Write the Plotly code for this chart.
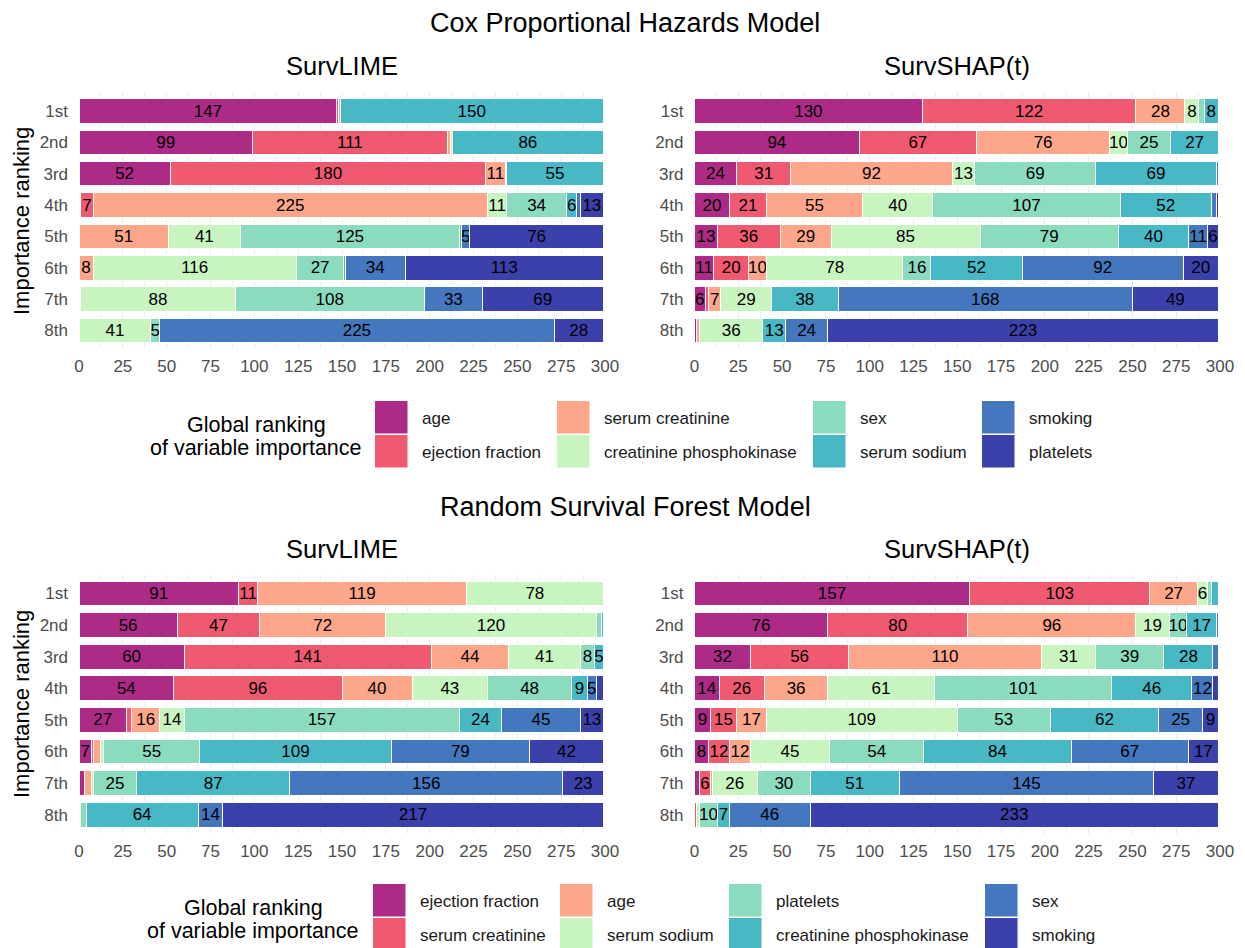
import plotly.graph_objects as go

# ---------------- data ----------------
ranks = ["1st", "2nd", "3rd", "4th", "5th", "6th", "7th", "8th"]
x_ticks = [0, 25, 50, 75, 100, 125, 150, 175, 200, 225, 250, 275, 300]

cox_vars = ["age", "ejection fraction", "serum creatinine", "creatinine phosphokinase",
            "sex", "serum sodium", "smoking", "platelets"]
rsf_vars = ["ejection fraction", "serum creatinine", "age", "serum sodium",
            "platelets", "creatinine phosphokinase", "sex", "smoking"]

# rows = importance rank (1st..8th), columns = variables in the order above
cox_survlime = [
    [147, 1, 1, 0, 0, 150, 0, 0],
    [99, 111, 2, 1, 0, 86, 0, 0],
    [52, 180, 11, 1, 0, 55, 0, 0],
    [1, 7, 225, 11, 34, 6, 2, 13],
    [0, 0, 51, 41, 125, 1, 5, 76],
    [0, 0, 8, 116, 27, 1, 34, 113],
    [0, 0, 1, 88, 108, 0, 33, 69],
    [0, 0, 0, 41, 5, 0, 225, 28],
]
cox_survshap = [
    [130, 122, 28, 8, 3, 8, 0, 0],
    [94, 67, 76, 10, 25, 27, 0, 0],
    [24, 31, 92, 13, 69, 69, 1, 0],
    [20, 21, 55, 40, 107, 52, 3, 1],
    [13, 36, 29, 85, 79, 40, 11, 6],
    [11, 20, 10, 78, 16, 52, 92, 20],
    [6, 2, 7, 29, 0, 38, 168, 49],
    [1, 0, 2, 36, 0, 13, 24, 223],
]
rsf_survlime = [
    [91, 11, 119, 78, 0, 0, 0, 0],
    [56, 47, 72, 120, 3, 1, 0, 0],
    [60, 141, 44, 41, 8, 5, 0, 0],
    [54, 96, 40, 43, 48, 9, 5, 4],
    [27, 3, 16, 14, 157, 24, 45, 13],
    [7, 1, 4, 2, 55, 109, 79, 42],
    [3, 0, 4, 1, 25, 87, 156, 23],
    [1, 0, 0, 0, 3, 64, 14, 217],
]
rsf_survshap = [
    [157, 103, 27, 6, 2, 4, 0, 0],
    [76, 80, 96, 19, 10, 17, 1, 0],
    [32, 56, 110, 31, 39, 28, 3, 0],
    [14, 26, 36, 61, 101, 46, 12, 3],
    [9, 15, 17, 109, 53, 62, 25, 9],
    [8, 12, 12, 45, 54, 84, 67, 17],
    [3, 6, 1, 26, 30, 51, 145, 37],
    [0, 1, 0, 2, 10, 7, 46, 233],
]

palette = ["#AD2B86", "#EF5A71", "#FDA68A", "#C8F4C0",
           "#8BDBBF", "#47B8C4", "#4477BD", "#3C40AA"]

# ---------------- layout helpers ----------------
OFF = 8                      # page body margin
W, H = 1245 - OFF, 948 - OFF
FONT = "Liberation Sans, Arial, Helvetica, sans-serif"


def px(x):
    return (x - OFF) / W


def py(y):
    return 1 - (y - OFF) / H


panels = [
    (cox_survlime, cox_vars, "x", "y"),
    (cox_survshap, cox_vars, "x2", "y2"),
    (rsf_survlime, rsf_vars, "x3", "y3"),
    (rsf_survshap, rsf_vars, "x4", "y4"),
]

fig = go.Figure()
for data, names, xa, ya in panels:
    for j, (name, col) in enumerate(zip(names, palette)):
        vals = [row[j] for row in data]
        fig.add_trace(go.Bar(
            x=vals, y=ranks, orientation="h", name=name,
            marker=dict(color=col, line=dict(color="white", width=1)),
            text=[str(v) if v >= 5 else "" for v in vals],
            textposition="inside", insidetextanchor="middle", textangle=0,
            textfont=dict(color="black", size=17, family=FONT),
            xaxis=xa, yaxis=ya, showlegend=False, hoverinfo="skip",
        ))

xdom_left = [px(79), px(605)]
xdom_right = [px(694.5), px(1220)]
ydom_top = [py(349.3), py(92.2)]
ydom_bot = [py(833.7), py(574.5)]


def xaxis(domain, anchor):
    return dict(
        domain=domain, anchor=anchor, range=[0, 300], automargin=False,
        tickvals=x_ticks, ticktext=[str(t) for t in x_ticks],
        tickfont=dict(size=17, color="#4D4D4D", family=FONT),
        showgrid=True, gridcolor="#EBEBEB", gridwidth=1.1,
        minor=dict(dtick=12.5, tick0=0, showgrid=True, gridcolor="#EFEFEF", gridwidth=0.6),
        zeroline=False, showline=False, ticks="", ticklabelstandoff=5,
        fixedrange=True,
    )


def yaxis(domain, anchor):
    return dict(
        domain=domain, anchor=anchor, type="category", automargin=False,
        categoryorder="array", categoryarray=ranks, range=[7.6, -0.6],
        tickfont=dict(size=17, color="#4D4D4D", family=FONT),
        showgrid=False, zeroline=False, showline=False, ticks="",
        ticklabelstandoff=10, fixedrange=True,
    )


annotations = []


def text(x, y, s, size, color="black", xanchor="center", angle=0):
    annotations.append(dict(
        x=px(x), y=py(y), xref="paper", yref="paper", text=s, showarrow=False,
        xanchor=xanchor, yanchor="middle", textangle=angle,
        font=dict(size=size, color=color, family=FONT),
    ))


# titles
text(625, 23, "Cox Proportional Hazards Model", 27)
text(625, 507, "Random Survival Forest Model", 27)
text(342, 66, "SurvLIME", 25.5)
text(957, 66, "SurvSHAP(t)", 25.5)
text(342, 549, "SurvLIME", 25.5)
text(957, 549, "SurvSHAP(t)", 25.5)
text(21, 221, "Importance ranking", 22, angle=-90)
text(21, 704, "Importance ranking", 22, angle=-90)

# legends (drawn as swatches + labels, column-major, 2 rows)
shapes = []


def legend(names, col_left, row_top, title_x, title_y):
    text(title_x, title_y, "Global ranking", 21.5)
    text(title_x, title_y + 23, "of variable importance", 21.5)
    for j, (name, col) in enumerate(zip(names, palette)):
        c, r = j // 2, j % 2
        x0 = col_left[c]
        y0 = row_top + r * 34
        shapes.append(dict(
            type="rect", xref="paper", yref="paper",
            x0=px(x0), x1=px(x0 + 32.5), y0=py(y0 + 32.5), y1=py(y0),
            fillcolor=col, line=dict(width=0), layer="above",
        ))
        text(x0 + 44.5, y0 + 17, name, 17, color="#1A1A1A", xanchor="left")


legend(cox_vars, [375, 557, 813, 982], 401, 256, 425)
legend(rsf_vars, [373, 560, 729, 985], 884, 253, 908)

fig.update_layout(
    width=W, height=H, margin=dict(l=0, r=0, t=0, b=0, autoexpand=False),
    paper_bgcolor="white", plot_bgcolor="white",
    barmode="stack", bargap=0.22,
    uniformtext=dict(minsize=17, mode="show"),
    font=dict(family=FONT),
    xaxis=xaxis(xdom_left, "y"), yaxis=yaxis(ydom_top, "x"),
    xaxis2=xaxis(xdom_right, "y2"), yaxis2=yaxis(ydom_top, "x2"),
    xaxis3=xaxis(xdom_left, "y3"), yaxis3=yaxis(ydom_bot, "x3"),
    xaxis4=xaxis(xdom_right, "y4"), yaxis4=yaxis(ydom_bot, "x4"),
    annotations=annotations, shapes=shapes,
)

fig.write_html("out.html")
